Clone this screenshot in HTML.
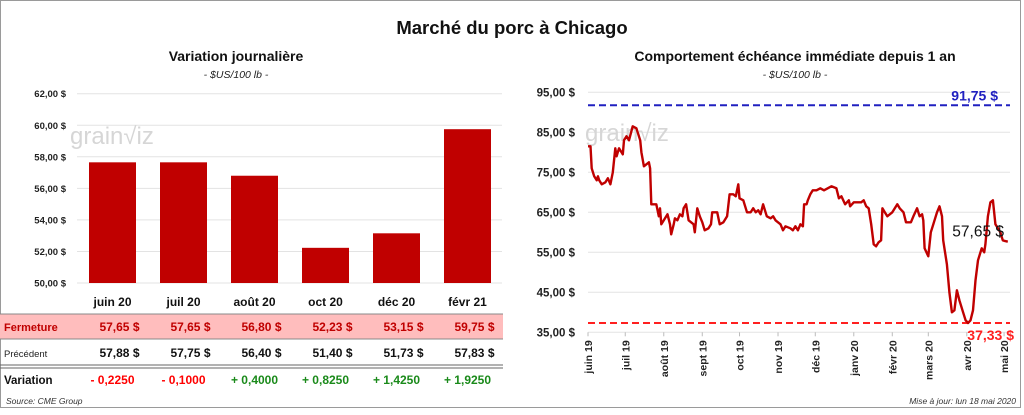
<!DOCTYPE html>
<html><head><meta charset="utf-8"><style>
html,body{margin:0;padding:0;background:#fff;}
body{width:1024px;height:410px;overflow:hidden;font-family:"Liberation Sans",sans-serif;}
svg text{font-family:"Liberation Sans",sans-serif;}
</style></head><body>
<svg id="c" width="1024" height="410" xmlns="http://www.w3.org/2000/svg">
<rect x="0.5" y="0.5" width="1020" height="407" fill="#fff" stroke="#9a9a9a"/>
<text x="512" y="34" font-size="18.5" font-weight="bold" text-anchor="middle" fill="#111">Marché du porc à Chicago</text>
<text x="236" y="61" font-size="14" font-weight="bold" text-anchor="middle" fill="#111">Variation  journalière</text>
<text x="236" y="78" font-size="10.5" font-style="italic" text-anchor="middle" fill="#222">- $US/100 lb -</text>
<text x="795" y="61" font-size="14" font-weight="bold" text-anchor="middle" fill="#111">Comportement  échéance immédiate depuis 1 an</text>
<text x="795" y="78" font-size="10.5" font-style="italic" text-anchor="middle" fill="#222">- $US/100 lb -</text>
<g id="left"></g>
<g id="table"></g>
<g id="right"></g>
<text x="6" y="404" font-size="8.5" font-style="italic" fill="#333">Source: CME Group</text>
<text x="1016" y="404" font-size="8.5" font-style="italic" fill="#333" text-anchor="end">Mise à jour: lun 18 mai 2020</text>
</svg>
<script>
const barCats=["juin 20","juil 20","août 20","oct 20","déc 20","févr 21"];
const closeVals=[57.65,57.65,56.80,52.23,53.15,59.75];
const prevVals=[57.88,57.75,56.40,51.40,51.73,57.83];
const variations=[-0.2250,-0.1000,0.4000,0.8250,1.4250,1.9250];
const leftTicks=[50,52,54,56,58,60,62];
const lineDays=[0,2,3,5,7,8,9,11,14,16,18,20,22,23,25,27,28,29,31,33,36,39,42,43,45,47,49,50,51,53,55,57,58,59,61,64,66,67,69,70,72,74,76,77,79,81,83,85,86,88,90,92,94,97,99,100,104,106,109,112,114,117,119,121,122,125,128,131,133,135,137,139,141,144,147,149,151,153,155,157,159,163,165,167,169,171,173,174,176,177,179,181,184,187,190,193,196,200,202,204,207,210,211,214,216,220,222,224,226,228,230,232,234,236,237,239,241,243,245,247,249,251,254,256,260,262,265,267,269,270,271,274,276,278,281,283,285,286,289,291,293,295,297,299,302,304,306,308,310,312,314,317,319,320,322,324,326,328,330,332,334,336,338];
const lineVals=[81.5,81.5,76,74,73,74,73,72,72.5,73.5,72,75,81,79,81,80,79.5,83,84,83,86.5,86,83,80,76.5,77,77.5,76,67,67,67,64,66,62,63,64.5,62,59.5,62,63.5,63,64.5,64,66,67,63,62.5,62,60,66,64,62.5,60.5,61,62,65,65,62,62.5,64,69.5,69.5,69,72,68.5,68,65,65,66,65,65.5,64.5,67,64,63.5,64,63,62.5,62,60.5,61.5,61,60.5,61.5,60.5,62,61.5,67,67,68,69.5,70.5,70.5,71,70.5,71,71.5,71,68.5,69,67,68,66.5,67.5,67.5,67.5,68,66.5,66,62,57,56.5,57.5,58,66,65,64,64.5,65,66,67,66,65,62.5,62.5,64,66,64,64.5,63,56,54,60,62,65,66.5,64,58,52,45,40,40.5,45.5,43,40,38,37.33,38,40.5,48,53,56,55,57,64,67.5,68,62,61,60,58,57.8,57.65];
const monthLabels=["juin 19","juil 19","août 19","sept 19","oct 19","nov 19","déc 19","janv 20","févr 20","mars 20","avr 20","mai 20"];
const monthDays=[0,30,61,92,122,153,183,214,245,274,305,335];
const rightTicks=[35,45,55,65,75,85,95];
const highVal=91.75, lowVal=37.33, lastVal=57.65;

const NS="http://www.w3.org/2000/svg";
function mk(tag,attrs,parent,txt){const e=document.createElementNS(NS,tag);for(const k in attrs)e.setAttribute(k,attrs[k]);if(txt!==undefined)e.textContent=txt;parent.appendChild(e);return e;}
function fmt(v,d){return v.toFixed(d).replace('.',',');}

const L=document.getElementById('left');
const ly=v=>283-(v-50)*(189.3/12);
const bx=i=>77+i*71+35.5;
leftTicks.forEach(t=>{
  const g=mk('line',{x1:77,x2:502,y1:ly(t),y2:ly(t),stroke:'#e3e3e3','stroke-width':1},L);
  
  
  const tx=mk('text',{x:66,y:ly(t)+3.5,'font-size':9.5,'font-weight':'bold','text-anchor':'end',fill:'#222'},L,fmt(t,2)+' $');
  
  
});
const wm1=mk('text',{x:70,y:144,'font-size':24,fill:'#d6d6d6'},L,'grain\u221Aiz');


closeVals.forEach((v,i)=>{
  const r=mk('rect',{x:bx(i)-23.5,y:ly(v),width:47,height:ly(50)-ly(v),fill:'#c00000'},L);
  
  
});

const T=document.getElementById('table');
const bg=mk('rect',{x:0,y:314,width:503,height:25,fill:'#ffbdbd'},T);


[[314,1,'#888'],[339,1,'#888'],[365,1,'#666'],[368,1,'#666']].forEach(a=>{
  const l=mk('line',{x1:0,x2:503,y1:a[0],y2:a[0],stroke:a[2],'stroke-width':a[1]},T);
  
  
});
barCats.forEach((c,i)=>{
  const t=mk('text',{x:bx(i),y:306,'font-size':12,'font-weight':'bold','text-anchor':'middle',fill:'#111'},T,c);
  
  
});
const rl1=mk('text',{x:4,y:331,'font-size':11,'font-weight':'bold',fill:'#c00000'},T,'Fermeture');


const rl2=mk('text',{x:4,y:357,'font-size':9.5,fill:'#222'},T,'Précédent');


const rl3=mk('text',{x:4,y:384,'font-size':11.5,'font-weight':'bold',fill:'#111'},T,'Variation');


closeVals.forEach((v,i)=>{
  const t=mk('text',{x:bx(i)+27,y:331,'font-size':12,'font-weight':'bold','text-anchor':'end',fill:'#c00000','xml:space':'preserve'},T,fmt(v,2)+'  $');
  
  
});
prevVals.forEach((v,i)=>{
  const t=mk('text',{x:bx(i)+27,y:357,'font-size':12,'font-weight':'bold','text-anchor':'end',fill:'#111','xml:space':'preserve'},T,fmt(v,2)+'  $');
  
  
});
variations.forEach((v,i)=>{
  const s=(v<0?'- ':'+ ')+fmt(Math.abs(v),4);
  const t=mk('text',{x:bx(i),y:384,'font-size':12,'font-weight':'bold','text-anchor':'middle',fill:v<0?'#ff0000':'#1a8a1a'},T,s);
  
  
});

const R=document.getElementById('right');
const ry=v=>92.3+(95-v)*4;
const rx=d=>588+d*1.242;
rightTicks.forEach(t=>{
  const g=mk('line',{x1:588,x2:1010,y1:ry(t),y2:ry(t),stroke:'#e3e3e3','stroke-width':1},R);
  
  
  const tx=mk('text',{x:575,y:ry(t)+4,'font-size':11.5,'font-weight':'bold','text-anchor':'end',fill:'#222'},R,fmt(t,2)+' $');
  
  
});
const wm2=mk('text',{x:585,y:141,'font-size':24,fill:'#d6d6d6'},R,'grain\u221Aiz');


monthLabels.forEach((m,i)=>{
  const x=rx(monthDays[i]);
  const tk=mk('line',{x1:x,x2:x,y1:ry(35),y2:ry(35)+4,stroke:'#bbb'},R);
  
  
  const t=mk('text',{x:0,y:0,'font-size':10.5,'font-weight':'bold',fill:'#222','text-anchor':'end',transform:`translate(${x+4},${ry(35)+8}) rotate(-90)`},R,m);
  
  
});
const hl=mk('line',{x1:588,x2:1010,y1:ry(highVal),y2:ry(highVal),stroke:'#2020c0','stroke-width':2,'stroke-dasharray':'7,4'},R);


const lw=mk('line',{x1:588,x2:1010,y1:ry(lowVal),y2:ry(lowVal),stroke:'#ff2020','stroke-width':2,'stroke-dasharray':'7,4'},R);


const pts=lineDays.map((d,i)=>rx(d).toFixed(1)+','+ry(lineVals[i]).toFixed(1)).join(' ');
const pl=mk('polyline',{points:pts,fill:'none',stroke:'#c00000','stroke-width':2.4,'stroke-linejoin':'round'},R);


const ht=mk('text',{x:998,y:ry(highVal)-5,'font-size':14,'font-weight':'bold',fill:'#2020c0','text-anchor':'end'},R,fmt(highVal,2)+' $');


const lt=mk('text',{x:1014,y:ry(lowVal)+17,'font-size':14,'font-weight':'bold',fill:'#ff2020','text-anchor':'end'},R,fmt(lowVal,2)+' $');


const la=mk('text',{x:1004,y:ry(lastVal)-5,'font-size':15.5,fill:'#111','text-anchor':'end'},R,fmt(lastVal,2)+' $');


</script>
</body></html>
